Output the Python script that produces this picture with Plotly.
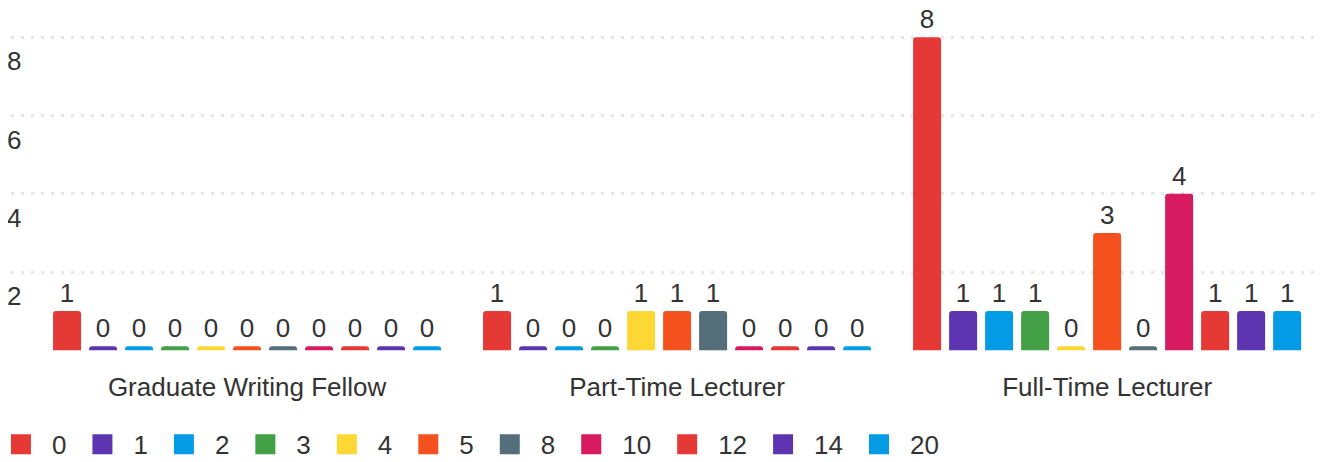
import plotly.graph_objects as go

categories = ["Graduate Writing Fellow", "Part-Time Lecturer", "Full-Time Lecturer"]
series_names = ["0", "1", "2", "3", "4", "5", "8", "10", "12", "14", "20"]
series_values = {
    "0":  [1, 1, 8],
    "1":  [0, 0, 1],
    "2":  [0, 0, 1],
    "3":  [0, 0, 1],
    "4":  [0, 1, 0],
    "5":  [0, 1, 3],
    "8":  [0, 1, 0],
    "10": [0, 0, 4],
    "12": [0, 0, 1],
    "14": [0, 0, 1],
    "20": [0, 0, 1],
}
colors = ["#E53935", "#5E35B1", "#039BE5", "#43A047", "#FDD835", "#F4511E",
          "#546E7A", "#D81B60", "#E53935", "#5E35B1", "#039BE5"]
y_ticks = [0, 2, 4, 6, 8]
y_ticktext = ["", "2", "4", "6", "8"]

FONT = "Arial, Liberation Sans, sans-serif"
TXT = "#333333"
MIN_VIS = 0.1  # zero-valued bars are drawn as a thin stub

fig = go.Figure()
for name, col in zip(series_names, colors):
    vals = series_values[name]
    fig.add_trace(go.Bar(
        name=name,
        legendgroup=name,
        showlegend=False,
        x=categories,
        y=[max(v, MIN_VIS) for v in vals],
        text=[str(v) for v in vals],
        textposition="outside",
        textfont=dict(family=FONT, size=26, color=TXT),
        cliponaxis=False,
        marker=dict(color=col, line=dict(width=0)),
        hovertemplate="%{x}<br>" + name + ": %{text}<extra></extra>",
    ))
# legend entries (square swatches) linked to each bar series
for name, col in zip(series_names, colors):
    fig.add_trace(go.Scatter(
        name=name, legendgroup=name, showlegend=True,
        x=[None], y=[None], mode="markers",
        marker=dict(symbol="square", size=16, color=col,
                    line=dict(color=col, width=4)),
        hoverinfo="skip",
    ))

# the page body adds an 8px offset, so the figure is 8px smaller each way
fig.update_layout(
    width=1319, height=454,
    margin=dict(l=3, r=1, t=0, b=111, autoexpand=False),
    paper_bgcolor="white", plot_bgcolor="white",
    barmode="group", bargap=0.079, bargroupgap=0.222,
    barcornerradius=3,
    font=dict(family=FONT, size=26, color=TXT),
    showlegend=True,
    legend=dict(orientation="h", xref="paper", yref="paper",
                x=-0.016, y=-0.272, xanchor="left", yanchor="middle",
                font=dict(family=FONT, size=26, color=TXT),
                itemwidth=52, traceorder="normal"),
)
fig.update_xaxes(range=[-0.549, 2.509], showgrid=False, zeroline=False,
                 showline=False, ticks="", ticklabelstandoff=18,
                 tickfont=dict(family=FONT, size=26, color=TXT))
fig.update_yaxes(range=[-0.02, 8.75], tickvals=y_ticks, ticktext=y_ticktext,
                 showgrid=True, gridcolor="#e6e6e6", gridwidth=3,
                 griddash="3px,7px", zeroline=False, showline=False,
                 ticks="", ticklabelposition="inside", ticklabelshift=24,
                 ticklabelstandoff=-7,
                 tickfont=dict(family=FONT, size=26, color=TXT))

fig.write_html("out.html")
